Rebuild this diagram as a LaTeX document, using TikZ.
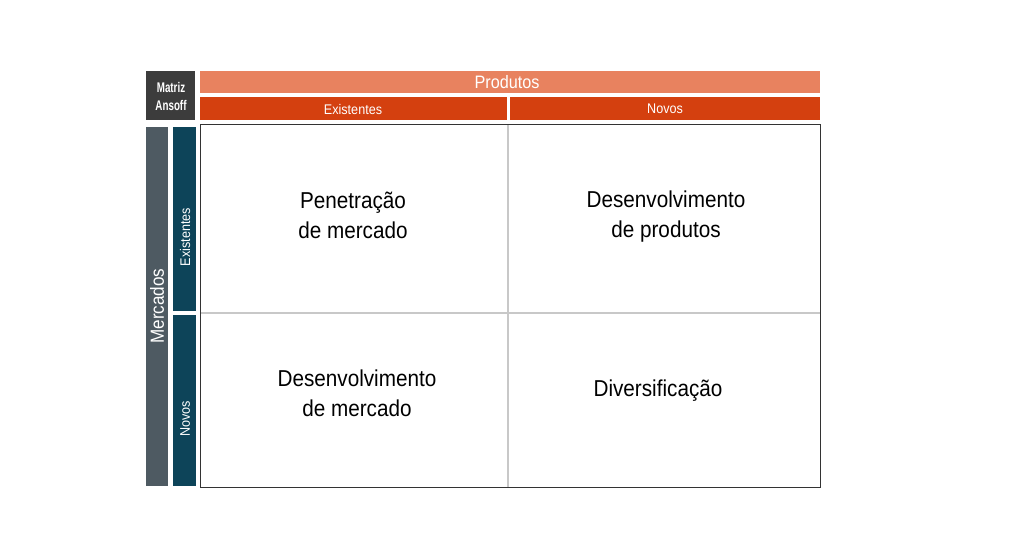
\documentclass[tikz,border=0pt]{standalone}
\usepackage{fontspec}
\setmainfont{Liberation Sans}[FakeStretch=0.9]
\newfontfamily\condbold{Liberation Sans}[UprightFont=*-Bold,FakeStretch=0.7]
\definecolor{prodlight}{HTML}{E8825F}
\definecolor{prodred}{HTML}{D4400F}
\definecolor{mercgray}{HTML}{4E5A62}
\definecolor{mercteal}{HTML}{0D4459}
\definecolor{corner}{HTML}{3C3C3C}
\definecolor{gridgray}{HTML}{C8C8C8}
\begin{document}
\begin{tikzpicture}[x=1pt,y=-1pt,
  bar/.style={inner sep=0pt,outer sep=0pt,anchor=north west},
  hdr/.style={text=white,inner sep=0pt},
  quad/.style={align=center,font=\fontsize{23}{30}\selectfont,inner sep=0pt}]
\useasboundingbox[fill=white] (0,0) rectangle (1024,538);
% corner
\node[bar,fill=corner,minimum width=49pt,minimum height=49pt] (corner) at (146,71) {};
\node[hdr,align=center,font=\condbold\fontsize{14}{18}\selectfont] (cornertxt) at (171,96) {Matriz\\Ansoff};
% top bars
\node[bar,fill=prodlight,minimum width=620pt,minimum height=22pt] (prod) at (200,71) {};
\node[hdr,font=\fontsize{18}{20}\selectfont] (prodtxt) at (507,82) {Produtos};
\node[bar,fill=prodred,minimum width=307pt,minimum height=23pt] (pex) at (200,97) {};
\node[bar,fill=prodred,minimum width=310pt,minimum height=23pt] (pnov) at (510,97) {};
\node[hdr,font=\fontsize{14}{15}\selectfont] (pextxt) at (353,109) {Existentes};
\node[hdr,font=\fontsize{14}{15}\selectfont] (pnovtxt) at (665,108.5) {Novos};
% left bars
\node[bar,fill=mercgray,minimum width=22pt,minimum height=359pt] (merc) at (146,127) {};
\node[hdr,rotate=90,font=\fontsize{19}{20}\selectfont] (merctxt) at (157,306) {Mercados};
\node[bar,fill=mercteal,minimum width=23pt,minimum height=184pt] (mex) at (173,127) {};
\node[bar,fill=mercteal,minimum width=23pt,minimum height=171pt] (mnov) at (173,315) {};
\node[hdr,rotate=90,font=\fontsize{14}{15}\selectfont] (mextxt) at (185,237) {Existentes};
\node[hdr,rotate=90,font=\fontsize{14}{15}\selectfont] (mnovtxt) at (185,419) {Novos};
% grid
\coordinate (gtl) at (200.5,124.5);
\coordinate (gbr) at (820,487);
\draw[gridgray,line width=1.2pt] (508,124.5) -- (508,487);
\draw[gridgray,line width=1.2pt] (200.5,313) -- (820,313);
\draw[black!80,line width=0.9pt] (gtl) rectangle (gbr);
% quadrant texts
\node[quad] (q1) at (353,215) {Penetração\\de mercado};
\node[quad] (q2) at (666,217) {Desenvolvimento\\de produtos};
\node[quad] (q3) at (357,393) {Desenvolvimento\\de mercado};
\node[quad] (q4) at (658,391) {Diversificação};
\end{tikzpicture}
\end{document}
